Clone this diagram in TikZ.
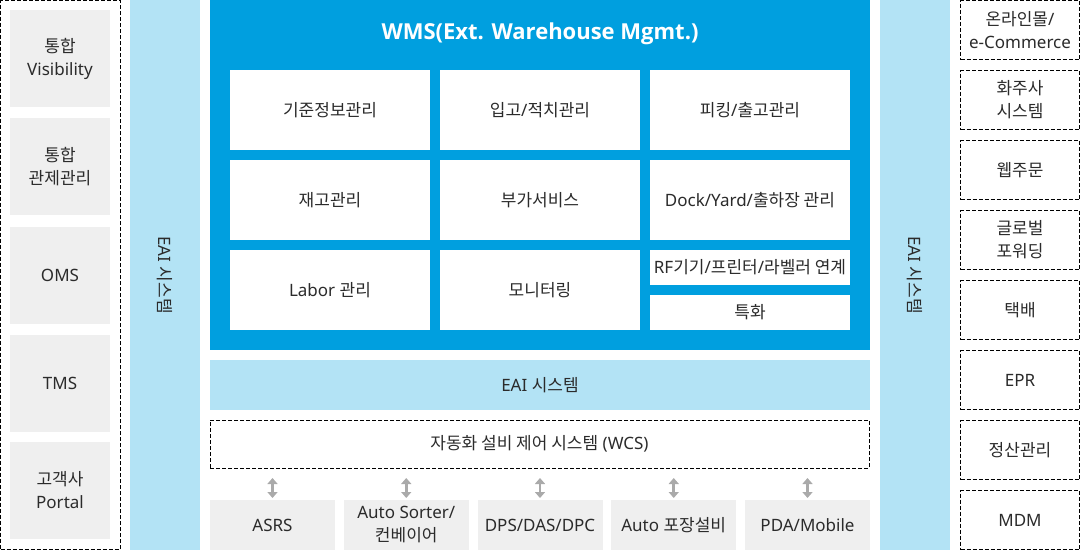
\documentclass[tikz,border=0pt]{standalone}
\usepackage{fontspec}
\setmainfont{Noto Sans}
\newfontfamily\krf{Noto Sans CJK KR}
\newfontfamily\titlef{Open Sans}
\newcommand\hk[1]{{\krf #1}}
\usetikzlibrary{arrows.meta}
\definecolor{wblue}{HTML}{009FDF}
\definecolor{lblue}{HTML}{B3E3F5}
\definecolor{lgrey}{HTML}{EFEFEF}
\definecolor{txt}{HTML}{2B2B2B}
\definecolor{agrey}{HTML}{AAAAAA}
\begin{document}
\begin{tikzpicture}[x=1pt,y=-1pt,
  box/.style={inner sep=0pt, outer sep=0pt, align=center, text=txt, font=\fontsize{17}{23}\selectfont},
  gbox/.style={box, fill=lgrey},
  dbox/.style={box, draw=black, dash pattern=on 4pt off 2pt, line width=0.8pt},
  wbox/.style={box, fill=white, minimum width=200pt},
  lbox/.style={gbox, minimum width=100pt, minimum height=97pt},
  rbox/.style={dbox, fill=white, minimum width=119pt, minimum height=59pt},
  bbox/.style={gbox, minimum width=125pt, minimum height=50pt},
  biarrow/.style={draw=agrey, line width=2.8pt, {Triangle[width=10pt,length=6pt]}-{Triangle[width=10pt,length=6pt]}}
]
\useasboundingbox (0,0) rectangle (1080,550);
% left container
\node[dbox, minimum width=119.5pt, minimum height=549pt] (lc) at (60.25,275) {};
\node[lbox] (l1) at (60,58.5) {\hk{통합}\\Visibility};
\node[lbox] (l2) at (60,166.5) {\hk{통합}\\\hk{관제관리}};
\node[lbox] (l3) at (60,275.5) {OMS};
\node[lbox] (l4) at (60,383.5) {TMS};
\node[lbox] (l5) at (60,490.5) {\hk{고객사}\\Portal};
% vertical EAI bars
\node[fill=lblue, inner sep=0pt, minimum width=70pt, minimum height=550pt] (eaiL) at (165,275) {};
\node[box, rotate=-90] at (eaiL) {EAI \hk{시스템}};
\node[fill=lblue, inner sep=0pt, minimum width=70pt, minimum height=550pt] (eaiR) at (915,275) {};
\node[box, rotate=-90] at (eaiR) {EAI \hk{시스템}};
% WMS
\node[fill=wblue, inner sep=0pt, minimum width=660pt, minimum height=350pt] (wms) at (540,175) {};
\node[text=white, font=\fontsize{22}{26}\selectfont\titlef\bfseries, inner sep=0pt] (title) at (540,34) {WMS(Ext. Warehouse Mgmt.)};
\node[wbox, minimum height=80pt] (m11) at (330,110) {\hk{기준정보관리}};
\node[wbox, minimum height=80pt] (m12) at (540,110) {\hk{입고}/\hk{적치관리}};
\node[wbox, minimum height=80pt] (m13) at (750,110) {\hk{피킹}/\hk{출고관리}};
\node[wbox, minimum height=80pt] (m21) at (330,200) {\hk{재고관리}};
\node[wbox, minimum height=80pt] (m22) at (540,200) {\hk{부가서비스}};
\node[wbox, minimum height=80pt] (m23) at (750,200) {Dock/Yard/\hk{출하장 관리}};
\node[wbox, minimum height=80pt] (m31) at (330,290) {Labor \hk{관리}};
\node[wbox, minimum height=80pt] (m32) at (540,290) {\hk{모니터링}};
\node[wbox, minimum height=35pt] (m33a) at (750,267.5) {RF\hk{기기}/\hk{프린터}/\hk{라벨러 연계}};
\node[wbox, minimum height=35pt] (m33b) at (750,312.5) {\hk{특화}};
% horizontal EAI
\node[box, fill=lblue, minimum width=660pt, minimum height=50pt] (eaiH) at (540,385) {EAI \hk{시스템}};
% WCS
\node[dbox, minimum width=659pt, minimum height=48pt] (wcs) at (539.5,444) {\hk{자동화 설비 제어 시스템} (WCS)};
% bottom boxes
\node[bbox] (b1) at (272.5,525) {ASRS};
\node[bbox] (b2) at (406.25,525) {Auto Sorter/\\\hk{컨베이어}};
\node[bbox] (b3) at (540,525) {DPS/DAS/DPC};
\node[bbox] (b4) at (673.75,525) {Auto \hk{포장설비}};
\node[bbox] (b5) at (807.5,525) {PDA/Mobile};
\foreach \b in {b1,b2,b3,b4,b5}{
  \draw[biarrow] ([yshift=-10pt]\b.north |- wcs.south) -- ([yshift=2pt]\b.north);
}
% right boxes
\node[rbox] (r1) at (1020,30.25) {\hk{온라인몰}/\\e-Commerce};
\node[rbox] (r2) at (1020,100) {\hk{화주사}\\\hk{시스템}};
\node[rbox] (r3) at (1020,170) {\hk{웹주문}};
\node[rbox] (r4) at (1020,240) {\hk{글로벌}\\\hk{포워딩}};
\node[rbox] (r5) at (1020,310) {\hk{택배}};
\node[rbox] (r6) at (1020,380) {EPR};
\node[rbox] (r7) at (1020,450) {\hk{정산관리}};
\node[rbox] (r8) at (1020,520) {MDM};
\end{tikzpicture}
\end{document}
